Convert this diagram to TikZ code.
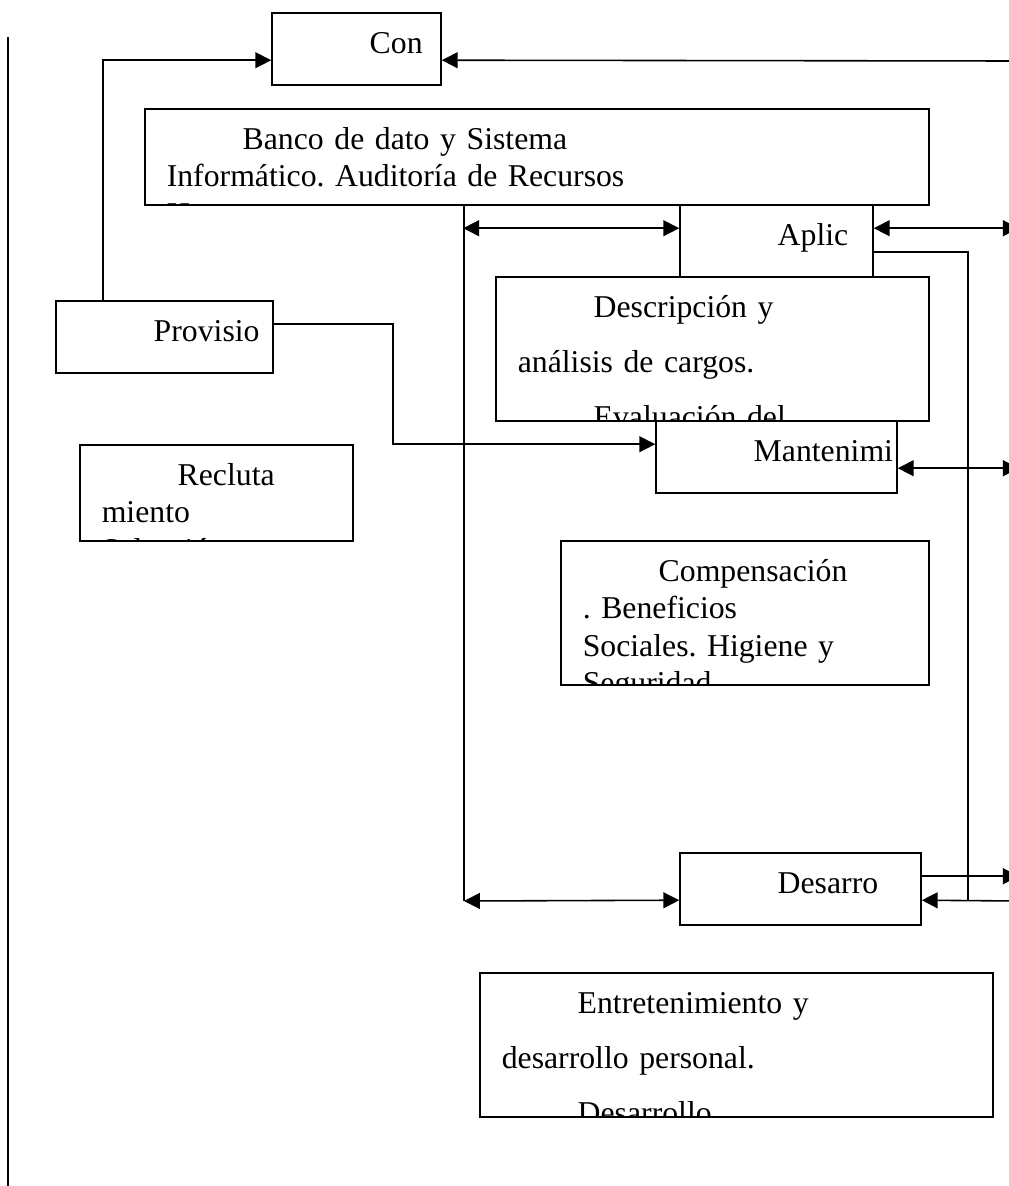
\documentclass[tikz,border=0pt]{standalone}
\usepackage{fontspec}
\setmainfont{Liberation Serif}
\usepackage{tikz}
\usetikzlibrary{positioning}
\usetikzlibrary{shapes,arrows,arrows.meta,positioning,fit}
\frenchspacing
\newcommand{\sangria}{\hspace*{28.7pt}}
\tikzstyle{block} = [rectangle, draw, line width=0.6pt, inner sep=0pt]
\tikzstyle{txt} = [inner sep=0pt, anchor=base west, align=left, text width=330pt, font=\fontsize{12pt}{14.2pt}\selectfont]
\tikzstyle{doble} = [font=\fontsize{12pt}{20.8pt}\selectfont]
\tikzstyle{line} = [draw, line width=0.6pt, -{Triangle[length=6pt,width=6pt]}]
\tikzstyle{dline} = [draw, line width=0.6pt, {Triangle[length=6pt,width=6pt]}-{Triangle[length=6pt,width=6pt]}]
\tikzset{caja/.style n args={3}{block, path picture={\node [txt, #2] (#1) at ([shift={(21,40)}]path picture bounding box.north west) {#3};}}}

\begin{document}
\begin{tikzpicture}[x=0.378pt, y=-0.378pt]
  \useasboundingbox [fill=white] (0,0) rectangle (1008,1186);

          % Place nodes
    \node [caja={cont}{}{\sangria Con}, fit={(272,13) (441,85)}] (con) {};
    \node [caja={bancot}{}{\sangria Banco de dato y Sistema\\Informático. Auditoría de Recursos\\Humanos}, fit={(145,109) (929,205)}] (banco) {};
    \node [caja={aplict}{}{\sangria Aplic}, fit={(680,205) (873,277)}] (aplic) {};
    \node [caja={desct}{doble}{\sangria Descripción y\\análisis de cargos.\\\sangria Evaluación del}, fit={(496,277) (929,421)}] (desc) {};
    \node [caja={provt}{}{\sangria Provisio}, fit={(56,301) (273,373)}] (prov) {};
    \node [caja={mantt}{}{\sangria Mantenimi}, fit={(656,421) (897,493)}] (mant) {};
    \node [caja={reclt}{}{\sangria Recluta\\miento\\Selección}, fit={(80,445) (353,541)}] (recl) {};
    \node [caja={compt}{}{\sangria Compensación\\. Beneficios\\Sociales. Higiene y\\Seguridad}, fit={(561,541) (929,685)}] (comp) {};
    \node [caja={desat}{}{\sangria Desarro}, fit={(680,853) (921,925)}] (desa) {};
    \node [caja={entret}{doble}{\sangria Entretenimiento y\\desarrollo personal.\\\sangria Desarrollo}, fit={(480,973) (993,1117)}] (entre) {};

    % loose ends
    \coordinate (izqA) at (8,37);
    \coordinate (izqB) at (8,1190);
    \coordinate (troncoA) at (464,205);
    \coordinate (troncoB) at (464,901);
    \coordinate (derA) at (1018,61);
    \coordinate (derB) at (968,901);
    \coordinate (derC) at (1018,901);

    % edges
         \draw [line width=0.6pt] (izqA) -- (izqB);
         \draw [line width=0.6pt] (troncoA) -- (troncoB);
         \path [line] ([shift={(48,0)}]prov.north west) |- ([shift={(0,48)}]con.north west);
         \path [line] (derA) -- ([shift={(0,48)}]con.north east);
         \path [dline] ([shift={(0,24)}]aplic.north west) -- ++(-216,0);
         \path [dline] ([shift={(0,24)}]aplic.north east) -- ++(145,0);
         \draw [line width=0.6pt] ([shift={(0,48)}]aplic.north east) -| (derB);
         \path [line] ([shift={(0,24)}]prov.north east) -| ++(119,120) -- ([shift={(0,24)}]mant.north west);
         \path [dline] ([shift={(0,48)}]mant.north east) -- ++(121,0);
         \path [dline] ([shift={(0,48)}]desa.north west) -- (troncoB);
         \path [line] ([shift={(0,24)}]desa.north east) -- ++(97,0);
         \path [line] (derC) -- ([shift={(0,48)}]desa.north east);
  \end{tikzpicture}
\end{document}
